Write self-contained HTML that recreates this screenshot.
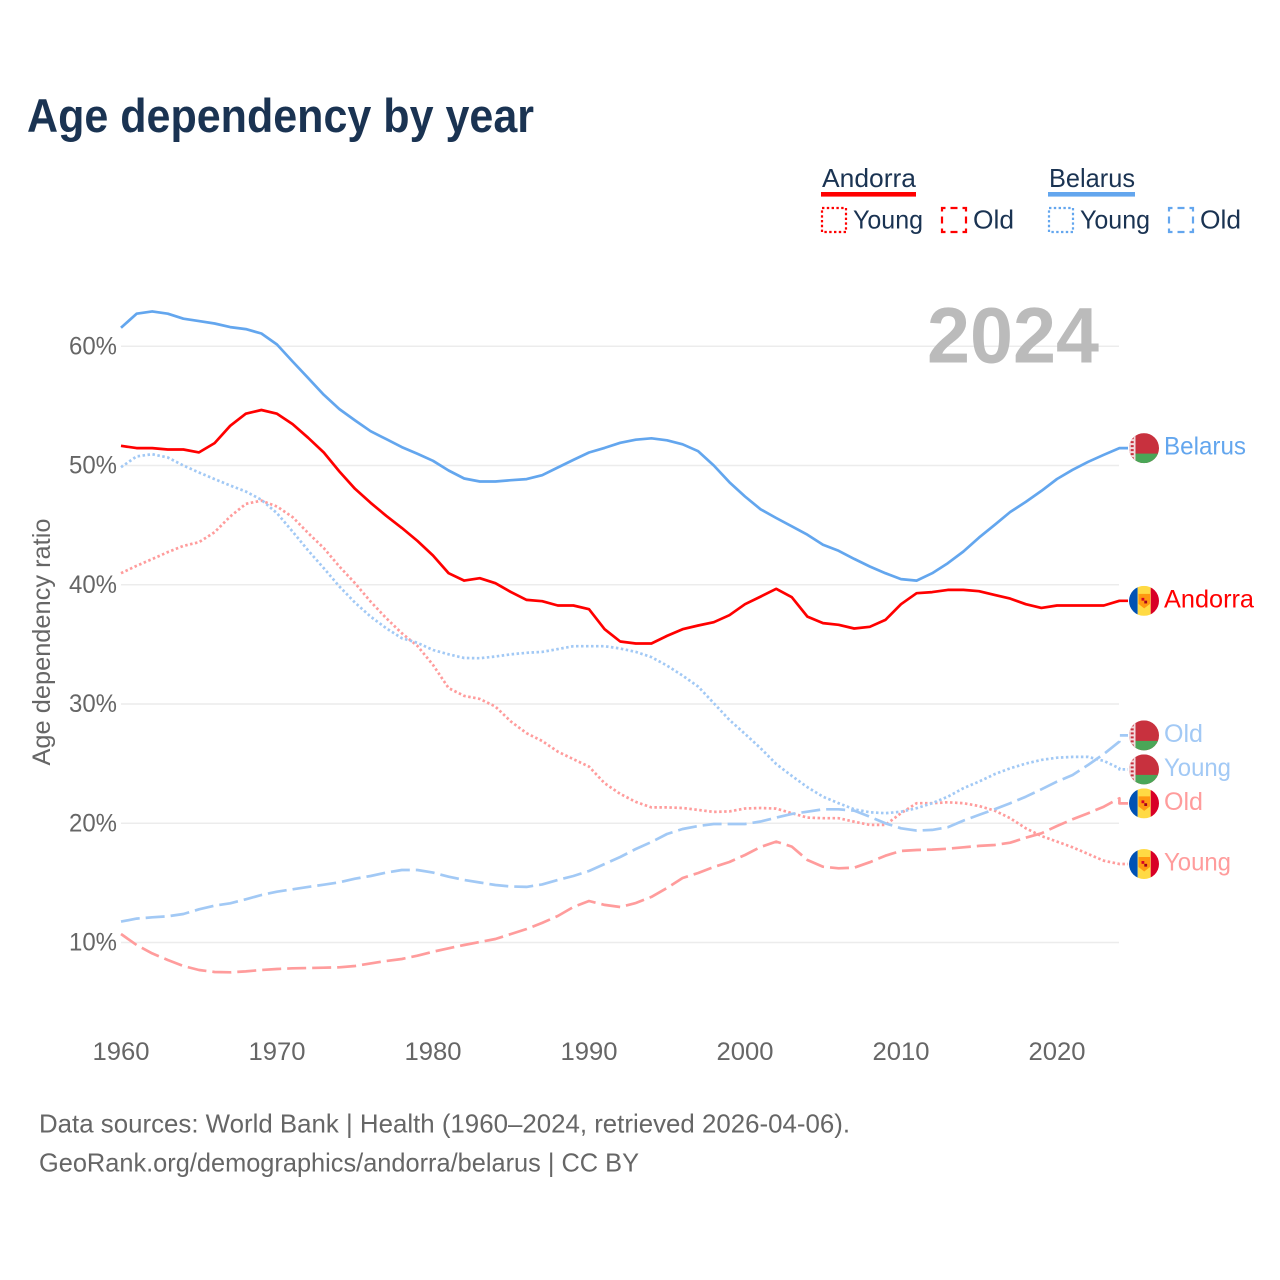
<!DOCTYPE html>
<html lang="en">
<head>
<meta charset="utf-8">
<title>Age dependency by year</title>
<style>
html,body{margin:0;padding:0;background:#fff;}
svg{display:block;font-family:"Liberation Sans",sans-serif;}
</style>
</head>
<body>
<svg id="chart" xmlns="http://www.w3.org/2000/svg" width="1280" height="1280" viewBox="0 0 1280 1280">
  <rect x="0" y="0" width="1280" height="1280" fill="#ffffff"/>
  <defs><clipPath id="flag-clip"><circle cx="0" cy="0" r="15"/></clipPath></defs>
  <text x="27" y="132" font-size="47" font-weight="700" fill="#1a3352" textLength="507" lengthAdjust="spacingAndGlyphs">Age dependency by year</text>

  <g fill="#1a3352" font-size="26">
    <text x="822" y="187" textLength="94" lengthAdjust="spacingAndGlyphs">Andorra</text>
    <rect x="821" y="192" width="95" height="4.6" fill="#ff0000"/>
    <rect x="822" y="208" width="24" height="24" fill="none" stroke="#ff0000" stroke-width="2.2" stroke-dasharray="2.4 2.4"/>
    <text x="853" y="228.5" textLength="70" lengthAdjust="spacingAndGlyphs">Young</text>
    <rect x="942" y="208" width="24" height="24" fill="none" stroke="#ff0000" stroke-width="2.2" stroke-dasharray="7 5" stroke-dashoffset="3.5"/>
    <text x="973" y="228.5" textLength="41" lengthAdjust="spacingAndGlyphs">Old</text>
    <text x="1049" y="187" textLength="86" lengthAdjust="spacingAndGlyphs">Belarus</text>
    <rect x="1048" y="192" width="87" height="4.6" fill="#63a6ee"/>
    <rect x="1049" y="208" width="24" height="24" fill="none" stroke="#63a6ee" stroke-width="2.2" stroke-dasharray="2.4 2.4"/>
    <text x="1080" y="228.5" textLength="70" lengthAdjust="spacingAndGlyphs">Young</text>
    <rect x="1169" y="208" width="24" height="24" fill="none" stroke="#63a6ee" stroke-width="2.2" stroke-dasharray="7 5" stroke-dashoffset="3.5"/>
    <text x="1200" y="228.5" textLength="41" lengthAdjust="spacingAndGlyphs">Old</text>
  </g>

  <g id="grid"></g>
  <g id="y-ticks"></g>
  <g id="x-ticks"></g>
  <text transform="translate(50,642) rotate(-90)" text-anchor="middle" font-size="25" fill="#666666" textLength="247" lengthAdjust="spacingAndGlyphs">Age dependency ratio</text>
  <text x="927" y="362.5" font-size="79" font-weight="700" fill="#bbbbbb" textLength="172" lengthAdjust="spacingAndGlyphs">2024</text>

  <g id="series"></g>
  <g id="end-labels"></g>

  <text x="39" y="1132.5" font-size="26" fill="#666666" textLength="811" lengthAdjust="spacingAndGlyphs">Data sources: World Bank | Health (1960–2024, retrieved 2026-04-06).</text>
  <text x="39" y="1171.5" font-size="26" fill="#666666" textLength="600" lengthAdjust="spacingAndGlyphs">GeoRank.org/demographics/andorra/belarus | CC BY</text>
</svg>
<script>
const years = [1960,1961,1962,1963,1964,1965,1966,1967,1968,1969,1970,1971,1972,1973,1974,1975,1976,1977,1978,1979,1980,1981,1982,1983,1984,1985,1986,1987,1988,1989,1990,1991,1992,1993,1994,1995,1996,1997,1998,1999,2000,2001,2002,2003,2004,2005,2006,2007,2008,2009,2010,2011,2012,2013,2014,2015,2016,2017,2018,2019,2020,2021,2022,2023,2024];
const xTickYears = [1960,1970,1980,1990,2000,2010,2020];
const yTickValues = [10,20,30,40,50,60];
const andorraTotal = [51.65,51.46,51.46,51.34,51.34,51.1,51.88,53.33,54.34,54.65,54.34,53.47,52.32,51.09,49.5,48.05,46.87,45.78,44.77,43.68,42.45,40.97,40.35,40.55,40.13,39.38,38.73,38.62,38.26,38.26,37.95,36.27,35.24,35.07,35.07,35.71,36.27,36.58,36.86,37.45,38.37,39.01,39.66,38.96,37.33,36.78,36.64,36.33,36.47,37.05,38.37,39.29,39.38,39.57,39.57,39.46,39.15,38.84,38.37,38.06,38.26,38.26,38.26,38.26,38.65];
const belarusTotal = [61.55,62.73,62.92,62.73,62.31,62.11,61.91,61.61,61.44,61.07,60.15,58.72,57.33,55.93,54.73,53.78,52.88,52.21,51.54,50.98,50.39,49.58,48.91,48.66,48.66,48.77,48.86,49.19,49.83,50.47,51.09,51.48,51.9,52.16,52.28,52.11,51.78,51.2,50,48.6,47.4,46.33,45.6,44.9,44.2,43.35,42.85,42.17,41.53,40.97,40.47,40.35,40.97,41.81,42.79,43.95,45.02,46.1,46.95,47.87,48.87,49.64,50.31,50.9,51.46];
const andorraYoung = [40.97,41.59,42.15,42.74,43.26,43.57,44.41,45.72,46.78,47.06,46.56,45.67,44.33,43.07,41.53,40.13,38.59,37.2,35.94,34.87,33.28,31.33,30.68,30.43,29.78,28.52,27.55,26.9,26.01,25.37,24.75,23.36,22.46,21.79,21.33,21.33,21.28,21.12,20.95,20.99,21.24,21.28,21.23,20.84,20.47,20.42,20.42,20.13,19.86,19.86,20.84,21.68,21.68,21.76,21.68,21.45,21.06,20.42,19.58,18.93,18.46,17.98,17.42,16.86,16.58];
const andorraOld = [10.71,9.79,9.09,8.53,8.03,7.69,7.53,7.5,7.58,7.69,7.78,7.84,7.86,7.89,7.92,8.03,8.25,8.45,8.62,8.89,9.23,9.51,9.79,10.04,10.29,10.71,11.13,11.64,12.22,12.98,13.48,13.15,12.98,13.31,13.82,14.57,15.41,15.83,16.33,16.75,17.34,18.01,18.46,18.04,16.92,16.36,16.22,16.27,16.73,17.28,17.68,17.76,17.79,17.87,17.98,18.1,18.18,18.37,18.79,19.16,19.77,20.33,20.84,21.39,22.09];
const belarusYoung = [49.86,50.76,50.95,50.67,50,49.41,48.86,48.32,47.82,47.12,46,44.46,42.87,41.39,39.85,38.5,37.33,36.36,35.52,35.13,34.53,34.17,33.86,33.84,33.98,34.17,34.29,34.37,34.6,34.85,34.85,34.85,34.65,34.37,33.93,33.22,32.38,31.46,30.07,28.67,27.49,26.29,24.97,23.97,23.02,22.23,21.68,21.17,20.92,20.84,20.97,21.26,21.68,22.23,22.94,23.49,24.11,24.61,25,25.31,25.5,25.56,25.56,25.23,24.61];
const belarusOld = [11.75,12,12.11,12.2,12.39,12.78,13.09,13.29,13.62,13.98,14.26,14.46,14.66,14.85,15.05,15.35,15.58,15.86,16.08,16.08,15.86,15.52,15.24,15.03,14.82,14.7,14.66,14.87,15.24,15.58,16,16.58,17.17,17.84,18.43,19.1,19.52,19.77,19.94,19.94,19.94,20.15,20.47,20.78,20.97,21.17,21.17,21.06,20.55,20,19.58,19.38,19.44,19.66,20.22,20.7,21.17,21.68,22.23,22.85,23.49,24.05,24.89,25.81,26.85];

const NS = 'http://www.w3.org/2000/svg';
const RED = '#ff0000', RED_LIGHT = '#ff9c9c', BLUE = '#63a6ee', BLUE_LIGHT = '#a2c9f5';
const DOT = '2.5 2.5', DASH = '19 6';
function xScale(year) { return 121 + (year - 1960) * 15.6; }
function yScale(v) { return 942.5 - (v - 10) * 11.925; }
function make(tag, attrs, parent) {
  const node = document.createElementNS(NS, tag);
  for (const k in attrs) node.setAttribute(k, attrs[k]);
  parent.appendChild(node);
  return node;
}
const gridG = document.getElementById('grid');
const yTickG = document.getElementById('y-ticks');
const xTickG = document.getElementById('x-ticks');
const seriesG = document.getElementById('series');
const labelsG = document.getElementById('end-labels');

yTickValues.forEach(function (v) {
  const line = make('line', {x1: 121, x2: 1119, y1: yScale(v), y2: yScale(v), stroke: '#ececec', 'stroke-width': 1.5}, gridG);
  
  
  const t = make('text', {x: 117, y: yScale(v) + 8, 'text-anchor': 'end', 'font-size': 25, fill: '#666666', textLength: 48, lengthAdjust: 'spacingAndGlyphs'}, yTickG);
  
  
  t.textContent = v + '%';
});
xTickYears.forEach(function (yr) {
  const t = make('text', {x: xScale(yr), y: 1060, 'text-anchor': 'middle', 'font-size': 25, fill: '#666666', textLength: 57, lengthAdjust: 'spacingAndGlyphs'}, xTickG);
  
  
  t.textContent = yr;
});

const seriesList = [
  {key: 'andorra-young', values: andorraYoung, color: RED_LIGHT, dash: DOT, width: 2.7, label: 'Young', country: 'andorra', textW: 67},
  {key: 'andorra-old', values: andorraOld, color: RED_LIGHT, dash: DASH, width: 2.7, label: 'Old', country: 'andorra', textW: 39},
  {key: 'belarus-young', values: belarusYoung, color: BLUE_LIGHT, dash: DOT, width: 2.7, label: 'Young', country: 'belarus', textW: 67},
  {key: 'belarus-old', values: belarusOld, color: BLUE_LIGHT, dash: DASH, width: 2.7, label: 'Old', country: 'belarus', textW: 39},
  {key: 'belarus-total', values: belarusTotal, color: BLUE, dash: 'none', width: 2.7, label: 'Belarus', country: 'belarus', textW: 82},
  {key: 'andorra-total', values: andorraTotal, color: RED, dash: 'none', width: 2.7, label: 'Andorra', country: 'andorra', textW: 90}
];

/* resolve end-label collisions: overlapping labels are grouped and centred on their mean */
function placeLabels(list) {
  const spacing = 34;
  const items = list.map(function (s) { return {s: s, y: yScale(s.values[s.values.length - 1])}; }).sort(function (a, b) { return a.y - b.y; });
  let clusters = items.map(function (it) { return {items: [it], mean: it.y}; });
  let merged = true;
  while (merged) {
    merged = false;
    for (let i = 0; i < clusters.length - 1; i++) {
      const a = clusters[i], b = clusters[i + 1];
      const aBottom = a.mean + (a.items.length - 1) * spacing / 2;
      const bTop = b.mean - (b.items.length - 1) * spacing / 2;
      if (bTop - aBottom < spacing) {
        const all = a.items.concat(b.items);
        const mean = all.reduce(function (acc, it) { return acc + it.y; }, 0) / all.length;
        clusters.splice(i, 2, {items: all, mean: mean});
        merged = true;
        break;
      }
    }
  }
  clusters.forEach(function (c) {
    c.items.forEach(function (it, i) {
      it.s.labelY = c.mean + (i - (c.items.length - 1) / 2) * spacing;
    });
  });
}
placeLabels(seriesList);

function drawFlag(country, cy, parent) {
  const g = make('g', {transform: 'translate(1144,' + cy + ')', 'clip-path': 'url(#flag-clip)'}, parent);
  if (country === 'belarus') {
    make('rect', {x: -15, y: -15, width: 30, height: 30, fill: '#c8313e'}, g);
    make('rect', {x: -15, y: 5.5, width: 30, height: 10, fill: '#4aa657'}, g);
    make('rect', {x: -15, y: -15, width: 6.5, height: 30, fill: '#f2dcde'}, g);
    make('line', {x1: -11.8, x2: -11.8, y1: -15, y2: 15, stroke: '#c8313e', 'stroke-width': 3, 'stroke-dasharray': '2 2'}, g);
  } else {
    make('rect', {x: -15, y: -15, width: 8.7, height: 30, fill: '#0052b4'}, g);
    make('rect', {x: -6.3, y: -15, width: 13, height: 30, fill: '#ffda44'}, g);
    make('rect', {x: 6.7, y: -15, width: 8.3, height: 30, fill: '#d80027'}, g);
    make('path', {d: 'M-5.5,-7 H6 V3 L0.2,7.5 L-5.5,3 Z', fill: '#ff9811'}, g);
    make('rect', {x: -2.5, y: -3, width: 2.8, height: 2.8, fill: '#d80027'}, g);
    make('rect', {x: 0.3, y: -0.2, width: 2.8, height: 2.8, fill: '#a2001d'}, g);
  }
  return g;
}

seriesList.forEach(function (s) {
  const lastX = xScale(years[years.length - 1]);
  const lastY = yScale(s.values[s.values.length - 1]);
  let d = s.values.map(function (v, i) { return (i ? 'L' : 'M') + xScale(years[i]).toFixed(1) + ',' + yScale(v).toFixed(1); }).join(' ');
  d += ' L' + lastX.toFixed(1) + ',' + s.labelY.toFixed(1) + ' L1128,' + s.labelY.toFixed(1);
  const path = make('path', {d: d, fill: 'none', stroke: s.color, 'stroke-width': s.width, 'stroke-linejoin': 'round', 'stroke-dasharray': s.dash}, seriesG);
  
  
  const flag = drawFlag(s.country, s.labelY, labelsG);
  
  
  const t = make('text', {x: 1164, y: s.labelY + 6.5, 'font-size': 25, fill: s.color, textLength: s.textW, lengthAdjust: 'spacingAndGlyphs'}, labelsG);
  
  
  t.textContent = s.label;
});
</script>
</body>
</html>
